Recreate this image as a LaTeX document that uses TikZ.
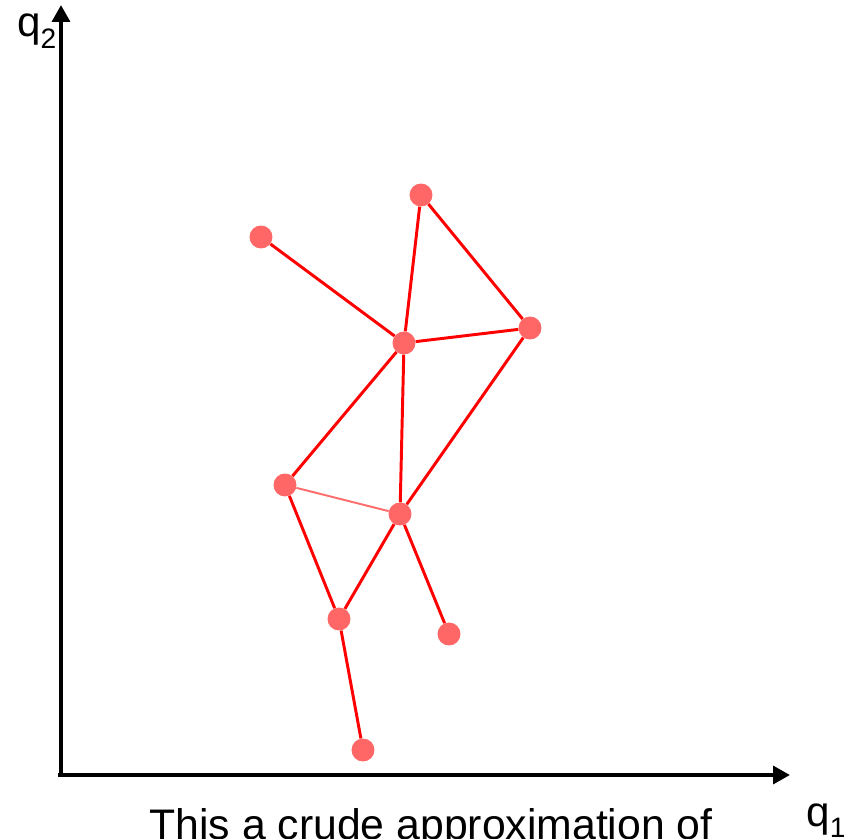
\documentclass[tikz,border=0pt]{standalone}
\usepackage{fontspec}
\setmainfont{Liberation Sans}
\usetikzlibrary{arrows.meta}
\tikzset{
	dot/.style = {circle, fill = dotred, inner sep = 0pt, minimum size = 16.3pt},
	link/.style = {draw = red, line width = 2.1pt},
	weaklink/.style = {draw = linkred, line width = 1.4pt},
	axis/.style = {line width = 3.5pt, -{Triangle[length = 12pt, width = 12.5pt]}}
}
\definecolor{dotred}{RGB}{255,102,102}
\definecolor{linkred}{RGB}{255,110,110}
\newcommand{\qlabel}[1]{q\raisebox{-0.28em}{\fontsize{20}{24}\selectfont #1}}
\begin{document}
\begin{tikzpicture} [x = 0.025cm, y = -0.025cm]
	\useasboundingbox (0,0) rectangle (855,839);
	% axes
	\coordinate (origin) at (61,775);
	\coordinate (xend) at (790,775);
	\coordinate (yend) at (61,5);
	\draw [axis] (58,775) -- (xend);
	\draw [axis] (origin) -- (yend);
	\node [anchor = base west, inner sep = 0pt, font = \fontsize{30}{36}\selectfont] (qtwo) at (17,37) {\qlabel{2}};
	\node [anchor = base west, inner sep = 0pt, font = \fontsize{30}{36}\selectfont] (qone) at (806,826) {\qlabel{1}};
	\node [anchor = base, inner sep = 0pt, font = \fontsize{30.4}{36}\selectfont] (caption) at (431,839) {This a crude approximation of};
	% joints
	\node [dot] (top) at (421,195) {};
	\node [dot] (hand) at (261,237) {};
	\node [dot] (neck) at (404,343) {};
	\node [dot] (elbow) at (530,328) {};
	\node [dot] (hip) at (285,485) {};
	\node [dot] (waist) at (400,514) {};
	\node [dot] (knee) at (339,619) {};
	\node [dot] (foot) at (449,634) {};
	\node [dot] (toe) at (363,750) {};
	% links
	\draw [link] (hand) -- (neck);
	\draw [link] (top) -- (neck);
	\draw [link] (top) -- (elbow);
	\draw [link] (neck) -- (elbow);
	\draw [link] (neck) -- (hip);
	\draw [link] (neck) -- (waist);
	\draw [link] (elbow) -- (waist);
	\draw [weaklink] (hip) -- (waist);
	\draw [link] (hip) -- (knee);
	\draw [link] (waist) -- (knee);
	\draw [link] (waist) -- (foot);
	\draw [link] (knee) -- (toe);
\end{tikzpicture}
\end{document}
